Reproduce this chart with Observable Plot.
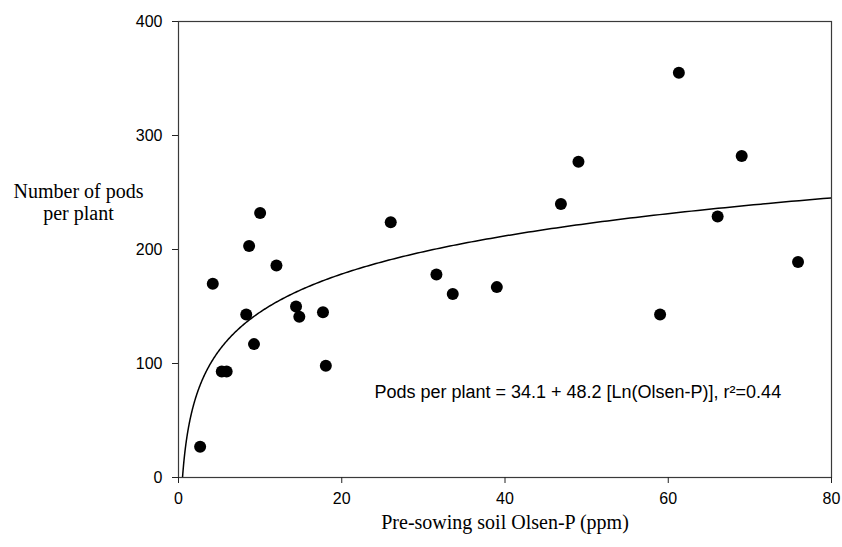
<!DOCTYPE html>
<html>
<head>
<meta charset="utf-8">
<script src="https://cdn.jsdelivr.net/npm/d3@7"></script>
<script src="https://cdn.jsdelivr.net/npm/@observablehq/plot@0.6"></script>
<style>
  html, body { margin: 0; padding: 0; background: #fff; }
  #chart { width: 842px; height: 547px; }
</style>
</head>
<body>
<div id="chart"></div>
<script>
// Observed data: pre-sowing soil Olsen-P (ppm) vs number of pods per plant
const olsenP = [2.65, 4.2, 5.3, 5.9, 8.3, 8.65, 9.25, 10.0, 12.0, 14.4, 14.8, 17.7, 18.05, 26.0, 31.6, 33.6, 39.0, 46.85, 49.0, 59.0, 61.3, 66.05, 69.0, 75.9];
const podsPerPlant = [27, 170, 93, 93, 143, 203, 117, 232, 186, 150, 141, 145, 98, 224, 178, 161, 167, 240, 277, 143, 355, 229, 282, 189];

// Fitted model (from the chart's equation): pods = a + b * ln(Olsen-P)
const fitIntercept = 34.1;
const fitSlope = 48.2;
const fitLabel = "Pods per plant = 34.1 + 48.2 [Ln(Olsen-P)], r\u00B2=0.44";

const xTicks = [0, 20, 40, 60, 80];
const yTicks = [0, 100, 200, 300, 400];
const xTitle = "Pre-sowing soil Olsen-P (ppm)";
const yTitle = "Number of pods\nper plant";

const points = olsenP.map((x, i) => ({x, y: podsPerPlant[i]}));

// Curve of the fitted equation, from where it crosses zero to the axis end
const xStart = Math.exp(-fitIntercept / fitSlope);
const curve = d3.range(0, 401).map(i => {
  const x = xStart * Math.pow(80 / xStart, i / 400);
  return {x, y: fitIntercept + fitSlope * Math.log(x)};
});

const sans = "'Liberation Sans', Arial, sans-serif";
const serif = "'Liberation Serif', 'Times New Roman', serif";

const chart = Plot.plot({
  width: 842,
  height: 547,
  marginLeft: 178,
  marginRight: 11,
  marginTop: 21,
  marginBottom: 70,
  style: {fontFamily: sans, fontSize: "16px", color: "#000", background: "#fff"},
  x: {domain: [0, 80]},
  y: {domain: [0, 400]},
  marks: [
    Plot.frame({stroke: "#3a3a3a", strokeWidth: 1.2}),
    Plot.axisX({ticks: xTicks, tickSize: 6, tickPadding: 9, label: null, fontSize: 16, fontFamily: sans, stroke: "#222"}),
    Plot.axisY({ticks: yTicks, tickSize: 6, tickPadding: 10, label: null, fontSize: 16, fontFamily: sans, stroke: "#222"}),
    Plot.line(curve, {x: "x", y: "y", stroke: "#000", strokeWidth: 1.5, clip: true}),
    Plot.dot(points, {x: "x", y: "y", r: 6, fill: "#000", stroke: "none"}),
    Plot.text([fitLabel], {x: 24, y: 75, text: d => d, textAnchor: "start", fontSize: 18, fontFamily: sans, fill: "#000"}),
    Plot.text([xTitle], {frameAnchor: "bottom", dy: 51, text: d => d, fontSize: 20, fontFamily: serif, fill: "#000"}),
    Plot.text([yTitle], {frameAnchor: "left", textAnchor: "middle", dx: -100, dy: -48, text: d => d, fontSize: 20, lineHeight: 1.1, fontFamily: serif, fill: "#000"})
  ]
});

document.getElementById("chart").appendChild(chart);
</script>
</body>
</html>
